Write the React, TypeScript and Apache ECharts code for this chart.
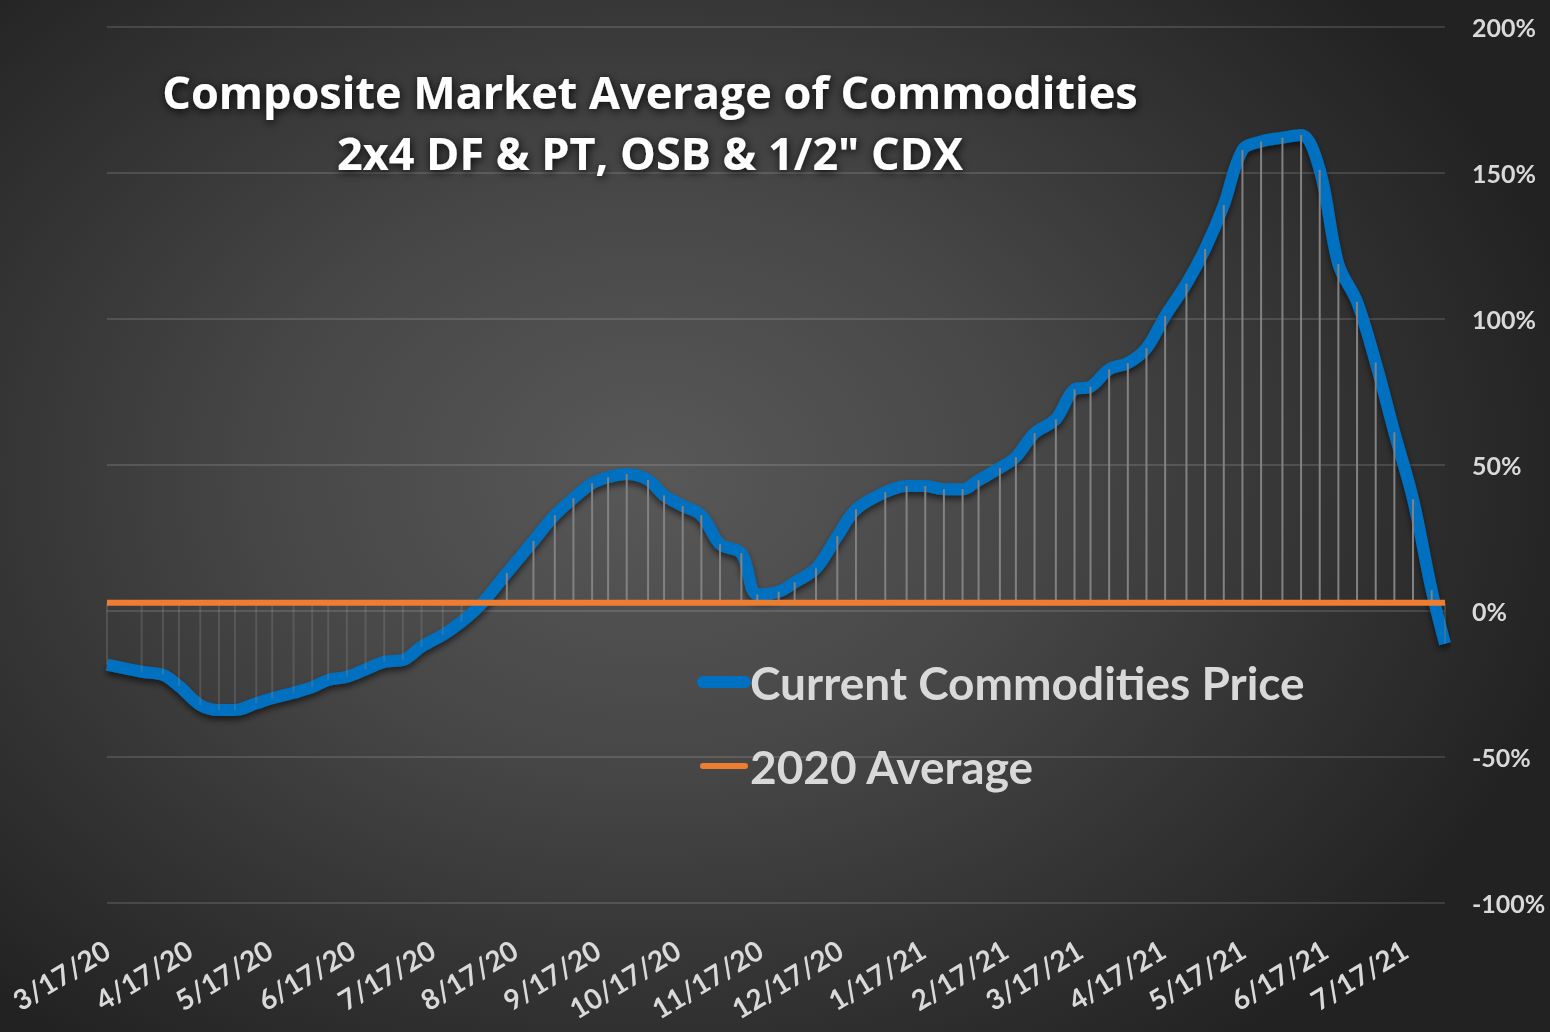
import React, { useEffect, useRef } from "react";
import * as echarts from "echarts";

// ---- data ----
const dates = [
  "2020-03-17", "2020-03-30", "2020-04-07", "2020-04-13", "2020-04-21", "2020-04-28",
  "2020-05-04", "2020-05-12", "2020-05-18", "2020-05-26", "2020-06-02", "2020-06-08",
  "2020-06-15", "2020-06-22", "2020-06-29", "2020-07-06", "2020-07-13", "2020-07-21",
  "2020-07-28", "2020-08-04", "2020-08-14", "2020-08-24", "2020-09-01", "2020-09-08",
  "2020-09-15", "2020-09-21", "2020-09-28", "2020-10-06", "2020-10-12", "2020-10-19",
  "2020-10-26", "2020-11-02", "2020-11-10", "2020-11-16", "2020-11-24", "2020-11-30",
  "2020-12-08", "2020-12-16", "2020-12-23", "2021-01-03", "2021-01-11", "2021-01-18",
  "2021-01-25", "2021-02-01", "2021-02-07", "2021-02-15", "2021-02-21", "2021-02-28",
  "2021-03-08", "2021-03-15", "2021-03-21", "2021-03-28", "2021-04-04", "2021-04-11",
  "2021-04-18", "2021-04-26", "2021-05-03", "2021-05-10", "2021-05-17", "2021-05-24",
  "2021-06-01", "2021-06-08", "2021-06-15", "2021-06-22", "2021-06-29", "2021-07-06",
  "2021-07-13", "2021-07-20", "2021-07-27", "2021-08-01",
];

const currentPrice = [
  -18.4, -20.8, -21.9, -25.7, -32.2, -33.9,
  -33.9, -31.6, -29.9, -28.0, -26.1, -23.6,
  -22.5, -20.0, -17.4, -16.8, -12.2, -8.2,
  -3.7, 2.0, 13.0, 24.0, 32.8, 38.6,
  43.7, 45.8, 46.9, 44.9, 39.6, 36.0,
  32.8, 22.9, 19.8, 5.7, 6.6, 9.8,
  14.6, 25.6, 34.8, 40.7, 42.8, 42.8,
  41.7, 41.7, 44.8, 49.0, 52.7, 60.9,
  65.7, 75.9, 76.8, 82.8, 84.9, 90.0,
  101.0, 112.1, 124.0, 139.0, 157.9, 160.8,
  162.1, 163.0, 151.1, 118.8, 105.9, 85.1,
  61.2, 38.3, 7.1, -11.2,
];

const AVERAGE_2020 = 2.8;

const xTickLabels = [
  "3/17/20", "4/17/20", "5/17/20", "6/17/20", "7/17/20", "8/17/20", "9/17/20",
  "10/17/20", "11/17/20", "12/17/20", "1/17/21", "2/17/21", "3/17/21", "4/17/21",
  "5/17/21", "6/17/21", "7/17/21",
];

const X_MIN = "2020-03-17";
const X_MAX = "2021-08-01";

const Y_MIN = -100;
const Y_MAX = 200;
const Y_STEP = 50;

const SERIES_PRICE = "Current Commodities Price";
const SERIES_AVG = "2020 Average";
const TITLE_LINES = ["Composite Market Average of Commodities", '2x4 DF & PT, OSB & 1/2" CDX'];

// ---- helpers ----
const isoToTs = (s: string) => {
  const [y, m, d] = s.split("-").map(Number);
  return new Date(y, m - 1, d).getTime();
};
const mdyToTs = (s: string) => {
  const [m, d, y] = s.split("/").map(Number);
  return new Date(2000 + y, m - 1, d).getTime();
};
const fmtDate = (v: number) => {
  const d = new Date(v);
  return `${d.getMonth() + 1}/${d.getDate()}/${String(d.getFullYear()).slice(2)}`;
};

const FONT = "Lato, 'Open Sans', sans-serif";
const TITLE_FONT = "'Open Sans', Lato, sans-serif";
const TEXT_COLOR = "#d9d9d9";

export default function App() {
  const ref = useRef<HTMLDivElement>(null);

  useEffect(() => {
    if (!ref.current) return;
    const chart = echarts.init(ref.current, null, { renderer: "svg" });

    const priceData = dates.map((d, i) => [isoToTs(d), currentPrice[i]]);
    const avgData = dates.map((d) => [isoToTs(d), AVERAGE_2020]);
    const dropData = dates.map((d, i) => [isoToTs(d), AVERAGE_2020, currentPrice[i]]);
    const tickValues = xTickLabels.map(mdyToTs);

    chart.setOption({
      animation: false,
      backgroundColor: "transparent",
      title: {
        text: TITLE_LINES.join("\n"),
        left: 645,
        top: 56,
        textAlign: "center",
        textStyle: {
          color: "#ffffff",
          fontFamily: TITLE_FONT,
          fontWeight: "bold",
          fontSize: 45,
          lineHeight: 61,
          textShadowColor: "rgba(0,0,0,0.9)",
          textShadowBlur: 10,
          textShadowOffsetX: 1,
          textShadowOffsetY: 2,
        },
      },
      legend: {
        orient: "vertical",
        left: 697,
        top: 657,
        padding: 0,
        itemWidth: 42,
        itemHeight: 14,
        itemGap: 34,
        selectedMode: false,
        textStyle: {
          color: TEXT_COLOR,
          fontFamily: FONT,
          fontWeight: "bold",
          fontSize: 46,
          lineHeight: 50,
        },
        data: [
          {
            name: SERIES_PRICE,
            itemStyle: { opacity: 0 },
            lineStyle: { width: 12, color: "#0070c0", cap: "round" },
          },
          {
            name: SERIES_AVG,
            itemStyle: { opacity: 0 },
            lineStyle: { width: 6, color: "#ed7d31", cap: "round" },
          },
        ],
      },
      grid: { left: 107, right: 105, top: 27, bottom: 129, containLabel: false },
      xAxis: {
        type: "value",
        min: isoToTs(X_MIN),
        max: isoToTs(X_MAX),
        axisLine: { show: false },
        axisTick: { show: false, customValues: tickValues },
        splitLine: { show: false },
        axisLabel: {
          customValues: tickValues,
          formatter: (v: number) => fmtDate(v),
          rotate: 31,
          margin: 44,
          color: TEXT_COLOR,
          fontFamily: FONT,
          fontWeight: "bold",
          fontSize: 28,
          hideOverlap: false,
        },
      },
      yAxis: {
        type: "value",
        position: "right",
        min: Y_MIN,
        max: Y_MAX,
        interval: Y_STEP,
        axisLine: { show: false },
        axisTick: { show: false },
        splitLine: { lineStyle: { color: "rgba(255,255,255,0.13)", width: 2 } },
        axisLabel: {
          formatter: "{value}%",
          margin: 27,
          color: TEXT_COLOR,
          fontFamily: FONT,
          fontWeight: "bold",
          fontSize: 25,
        },
      },
      series: [
        {
          name: SERIES_PRICE,
          type: "line",
          data: priceData,
          smooth: 0.35,
          symbol: "none",
          z: 2,
          lineStyle: {
            color: "#0070c0",
            width: 12,
            shadowColor: "rgba(0,0,0,0.55)",
            shadowBlur: 6,
            shadowOffsetY: 4,
          },
          itemStyle: { color: "#0070c0" },
        },
        {
          name: "drop",
          type: "custom",
          silent: true,
          z: 3,
          data: dropData,
          encode: { x: 0, y: [1, 2] },
          renderItem: (params: any, api: any) => {
            const x = api.value(0);
            const a = api.coord([x, api.value(1)]);
            const b = api.coord([x, api.value(2)]);
            const neg = api.value(2) < api.value(1);
            return {
              type: "line",
              shape: { x1: a[0], y1: a[1], x2: b[0], y2: b[1] },
              style: { stroke: neg ? "rgba(140,140,140,0.3)" : "#828282", lineWidth: 2 },
            };
          },
        },
        {
          name: SERIES_AVG,
          type: "line",
          data: avgData,
          symbol: "none",
          z: 4,
          lineStyle: { color: "#ed7d31", width: 6 },
          itemStyle: { color: "#ed7d31" },
        },
      ],
    });

    return () => chart.dispose();
  }, []);

  return (
    <div
      ref={ref}
      style={{
        position: "fixed",
        left: 0,
        top: 0,
        width: 1550,
        height: 1032,
        background:
          "radial-gradient(ellipse 950px 720px at 42% 46%, #585858 0%, #474747 40%, #333333 72%, #222222 100%)",
      }}
    />
  );
}
